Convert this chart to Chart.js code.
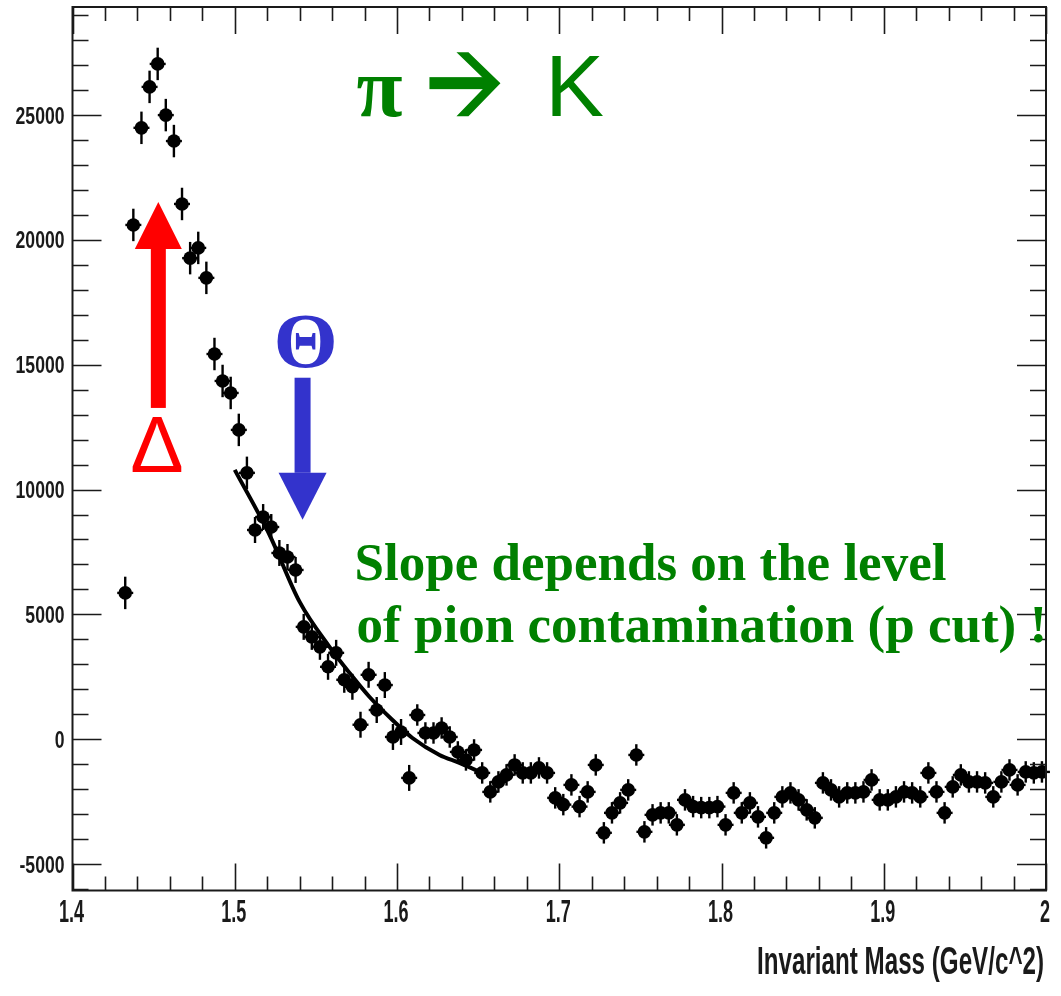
<!DOCTYPE html>
<html>
<head>
<meta charset="utf-8">
<title>Invariant mass, pi -> K</title>
<script src="https://cdn.jsdelivr.net/npm/chart.js@4.4.1/dist/chart.umd.min.js"></script>
<style>
  html, body { margin: 0; padding: 0; background: #fff; }
  #wrap { width: 1061px; height: 996px; position: relative; }
</style>
</head>
<body>
<div id="wrap"><canvas id="massChart"></canvas></div>
<script>
// histogram binning (GeV/c^2)
const binLow = 1.4325;
const binWidth = 0.005;

// background-subtracted counts per bin
const counts = [
  5860, 20600, 24490, 26130, 27050, 25000, 23960, 21440, 19270, 19680,
  18480, 15430, 14350, 13870, 12390, 10670, 8380, 8900, 8500, 7460,
  7300, 6780, 4500, 4100, 3700, 2900, 3460, 2380, 2100, 580,
  2580, 1170, 2170, 90, 290, -1550, 970, 250, 250, 450,
  90, -510, -830, -430, -1350, -2110, -1710, -1430, -1030, -1350,
  -1350, -1150, -1350, -2350, -2620, -1830, -2700, -2110, -1030, -3750,
  -2950, -2550, -2030, -630, -3710, -3030, -2950, -2950, -3430, -2430,
  -2700, -2740, -2740, -2700, -3430, -2150, -2950, -2550, -3110, -3950,
  -2950, -2310, -2150, -2430, -2830, -3150, -1750, -2030, -2310, -2150,
  -2150, -2110, -1630, -2430, -2430, -2310, -2110, -2150, -2310, -1350,
  -2110, -2950, -1910, -1430, -1710, -1710, -1750, -2310, -1710, -1230,
  -1830, -1310, -1350, -1310
];

// statistical error, by mass range
const errorRanges = [
  { upTo: 1.51, err: 650 },
  { upTo: 1.61, err: 520 },
  { upTo: 2.00, err: 430 }
];

// fitted background slope
const fitMass = [1.500, 1.5215, 1.540, 1.5585, 1.5708, 1.5831, 1.5972, 1.6095, 1.6262, 1.6385, 1.6551];
const fitCounts = [10790, 8180, 5500, 3690, 2650, 1690, 770, 50, -630, -950, -1430];

// axis labels
const xTickLabels = ['1.4', '1.5', '1.6', '1.7', '1.8', '1.9', '2'];
const yTickLabels = ['-5000', '0', '5000', '10000', '15000', '20000', '25000'];
const xMinorStep = 0.02;
const yMinorStep = 1000;
const xTitle = 'Invariant Mass (GeV/c^2)';

const X_MIN = 1.4, X_MAX = 2.0;
const Y_MIN = -6060, Y_MAX = 29330;

const GREEN = '#008000';
const RED = '#ff0000';
const BLUE = '#3333cc';
const INK = '#1a1a1a';

const points = counts.map((c, i) => ({ x: binLow + i * binWidth, y: c }));
const fitLine = fitMass.map((m, i) => ({ x: m, y: fitCounts[i] }));

function errorFor(x) {
  for (const r of errorRanges) if (x <= r.upTo) return r.err;
  return errorRanges[errorRanges.length - 1].err;
}

function stretchText(ctx, text, x, y, font, sx, sy, align, baseline) {
  ctx.save();
  ctx.translate(x, y);
  ctx.scale(sx, sy);
  ctx.font = font;
  ctx.textAlign = align;
  ctx.textBaseline = baseline || 'alphabetic';
  ctx.fillText(text, 0, 0);
  ctx.restore();
}

function vArrow(ctx, xs, ys, x, yTail, yTip, shaftW, headL, headW, color) {
  const px = xs.getPixelForValue(x);
  const p0 = ys.getPixelForValue(yTail);
  const p1 = ys.getPixelForValue(yTip);
  const dir = p1 < p0 ? -1 : 1;
  const base = p1 - dir * headL;
  ctx.save();
  ctx.fillStyle = color;
  ctx.fillRect(px - shaftW / 2, Math.min(p0, base), shaftW, Math.abs(base - p0));
  ctx.beginPath();
  ctx.moveTo(px - headW / 2, base);
  ctx.lineTo(px + headW / 2, base);
  ctx.lineTo(px, p1);
  ctx.closePath();
  ctx.fill();
  ctx.restore();
}

// error bars under the markers
const errorBars = {
  id: 'errorBars',
  beforeDatasetsDraw(chart) {
    const { ctx, scales: { x, y } } = chart;
    ctx.save();
    ctx.strokeStyle = '#000';
    ctx.lineWidth = 2.4;
    points.forEach(p => {
      const e = errorFor(p.x);
      const px = x.getPixelForValue(p.x);
      ctx.beginPath();
      ctx.moveTo(px, y.getPixelForValue(p.y - e));
      ctx.lineTo(px, y.getPixelForValue(p.y + e));
      ctx.stroke();
      ctx.beginPath();
      ctx.moveTo(px - 8, y.getPixelForValue(p.y));
      ctx.lineTo(px + 8, y.getPixelForValue(p.y));
      ctx.stroke();
    });
    ctx.restore();
  }
};

// ROOT-style frame: box, inward ticks on all four sides, labels
const rootFrame = {
  id: 'rootFrame',
  afterDraw(chart) {
    const { ctx, chartArea: a, scales: { x, y } } = chart;
    ctx.save();
    ctx.strokeStyle = INK;
    ctx.lineWidth = 2;
    ctx.strokeRect(a.left, a.top, a.right - a.left, a.bottom - a.top);

    ctx.lineWidth = 1.6;
    ctx.beginPath();
    for (let v = X_MIN; v <= X_MAX + 1e-9; v += xMinorStep) {
      const px = Math.round(x.getPixelForValue(v)) + 0.5;
      const major = Math.abs(v * 10 - Math.round(v * 10)) < 1e-6;
      const len = major ? 27 : 14;
      ctx.moveTo(px, a.bottom); ctx.lineTo(px, a.bottom - len);
      ctx.moveTo(px, a.top); ctx.lineTo(px, a.top + len);
    }
    for (let v = -6000; v <= Y_MAX; v += yMinorStep) {
      const py = Math.round(y.getPixelForValue(v)) + 0.5;
      const major = v % 5000 === 0;
      const len = major ? 29 : 16;
      ctx.moveTo(a.left, py); ctx.lineTo(a.left + len, py);
      ctx.moveTo(a.right, py); ctx.lineTo(a.right - len, py);
    }
    ctx.stroke();

    ctx.fillStyle = INK;
    yTickLabels.forEach(t => {
      const py = y.getPixelForValue(parseFloat(t));
      stretchText(ctx, t, a.left - 8, py + 8.5, 'bold 22px "Liberation Sans", Arial, sans-serif', 0.8, 1.12, 'right');
    });
    xTickLabels.forEach(t => {
      const px = x.getPixelForValue(parseFloat(t));
      stretchText(ctx, t, px - 1, 922, 'bold 22px "Liberation Sans", Arial, sans-serif', 0.82, 1.4, 'center');
    });
    stretchText(ctx, xTitle, a.right - 2, 974, 'bold 26px "Liberation Sans", Arial, sans-serif', 0.93, 1.5, 'right');
    ctx.restore();
  }
};

// labels and arrows placed on top of the plot
const annotations = {
  id: 'annotations',
  afterDraw(chart) {
    const { ctx, scales: { x, y } } = chart;
    ctx.save();

    // Delta peak
    vArrow(ctx, x, y, 1.4529, 13270, 21520, 15, 47, 47, RED);
    ctx.fillStyle = RED;
    ctx.font = '80px "Liberation Sans", Arial, sans-serif';
    ctx.textAlign = 'center';
    ctx.textBaseline = 'alphabetic';
    ctx.fillText('Δ', x.getPixelForValue(1.452), y.getPixelForValue(10710));

    // Theta position
    vArrow(ctx, x, y, 1.5418, 14480, 8790, 16, 47, 48, BLUE);
    ctx.fillStyle = BLUE;
    stretchText(ctx, 'Θ', x.getPixelForValue(1.5437), y.getPixelForValue(14920),
      'bold 78px "Liberation Serif", "Times New Roman", serif', 1.06, 1, 'center');

    // pi -> K
    ctx.fillStyle = GREEN;
    ctx.textAlign = 'left';
    ctx.font = 'bold 84px "Liberation Serif", "Times New Roman", serif';
    ctx.fillText('π', x.getPixelForValue(1.5751), y.getPixelForValue(24960));
    ctx.font = '88px "Liberation Sans", Arial, sans-serif';
    ctx.fillText('K', x.getPixelForValue(1.6914), y.getPixelForValue(24960));

    const ax = x.getPixelForValue(1.6200);
    const ay = y.getPixelForValue(26280);
    ctx.fillRect(ax, ay - 6, 62, 12);
    ctx.beginPath();
    ctx.moveTo(ax + 27, ay - 31);
    ctx.lineTo(ax + 39, ay - 31);
    ctx.lineTo(ax + 71, ay);
    ctx.lineTo(ax + 39, ay + 33);
    ctx.lineTo(ax + 27, ay + 33);
    ctx.lineTo(ax + 59, ay);
    ctx.closePath();
    ctx.fill();

    // comment text
    ctx.font = 'bold 53px "Liberation Serif", "Times New Roman", serif';
    ctx.fillText('Slope depends on the level', x.getPixelForValue(1.5738), y.getPixelForValue(6380));
    ctx.fillText('of pion contamination (p cut) !', x.getPixelForValue(1.5751), y.getPixelForValue(3900));

    ctx.restore();
  }
};

new Chart(document.getElementById('massChart').getContext('2d'), {
  data: {
    datasets: [
      {
        type: 'scatter',
        label: 'data',
        data: points,
        pointRadius: 6.8,
        pointHoverRadius: 6.8,
        backgroundColor: '#000',
        borderWidth: 0
      },
      {
        type: 'line',
        label: 'fit',
        data: fitLine,
        borderColor: '#000',
        borderWidth: 4,
        pointRadius: 0,
        fill: false,
        cubicInterpolationMode: 'monotone'
      }
    ]
  },
  options: {
    responsive: true,
    maintainAspectRatio: false,
    animation: false,
    events: [],
    layout: { padding: { left: 72.5, top: 7, right: 15, bottom: 105.5 } },
    plugins: {
      legend: { display: false },
      tooltip: { enabled: false }
    },
    scales: {
      x: { type: 'linear', min: X_MIN, max: X_MAX, display: false },
      y: { type: 'linear', min: Y_MIN, max: Y_MAX, display: false }
    }
  },
  plugins: [errorBars, rootFrame, annotations]
});
</script>
</body>
</html>
